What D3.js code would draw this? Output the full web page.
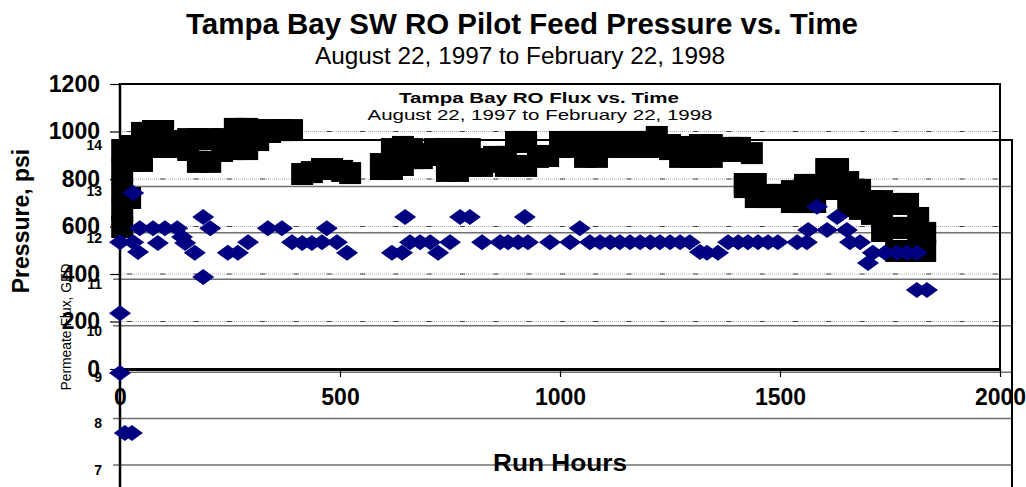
<!DOCTYPE html>
<html>
<head>
<meta charset="utf-8">
<script src="https://cdn.jsdelivr.net/npm/d3@7/dist/d3.min.js"></script>
<style>
body { margin: 0; background: #ffffff; }
text { font-family: "Liberation Sans", Arial, sans-serif; }
</style>
</head>
<body>
<script>
// Feed pressure (run hours, psi)
var pressureHours = [5, 5, 5, 5, 5, 23, 27, 27, 50, 50, 75, 75, 98, 98, 125, 125, 155, 155, 177, 177,
  205, 205, 232, 232, 261, 261, 289, 289, 314, 314, 341, 341, 368, 391,
  414, 436, 459, 482, 505, 523,
  593, 593, 618, 618, 643, 643, 664, 664, 686, 686, 716, 716, 743, 743, 768, 768, 795, 795,
  823, 823, 850, 850, 877, 877, 900, 900, 923, 923, 950, 950, 973,
  1000, 1000, 1027, 1027, 1057, 1057, 1084, 1084, 1114, 1114, 1141, 1141, 1168, 1168, 1195, 1195,
  1220, 1220, 1250, 1250, 1273, 1273, 1295, 1295, 1318, 1318, 1345, 1345, 1382, 1382, 1409, 1409, 1436,
  1420, 1420, 1445, 1445, 1473, 1473, 1500, 1500, 1527, 1527, 1557, 1557, 1580, 1580,
  1605, 1605, 1632, 1632, 1655, 1655, 1682, 1682, 1709, 1709, 1732, 1732, 1732,
  1764, 1764, 1764, 1791, 1791, 1791, 1814, 1814, 1814, 1830, 1830]
var pressurePsi = [922, 838, 754, 669, 598, 720, 939, 876, 994, 876, 1002, 935, 1002, 935, 960, 935, 968, 922, 968, 872,
  968, 872, 968, 918, 1011, 926, 1011, 926, 1006, 964, 1006, 998, 1006, 1006,
  821, 829, 842, 842, 834, 825,
  863, 842, 926, 842, 935, 859, 926, 888, 905, 888, 926, 901, 926, 834, 926, 834, 926, 855,
  884, 855, 893, 872, 893, 855, 956, 855, 956, 855, 897, 893, 897,
  956, 935, 956, 935, 956, 893, 956, 893, 956, 935, 956, 935, 956, 935, 956, 935,
  977, 935, 943, 926, 935, 893, 926, 893, 943, 893, 943, 893, 931, 918, 931, 918, 909,
  779, 766, 779, 724, 733, 724, 733, 724, 749, 703, 775, 703, 775, 703,
  842, 758, 842, 758, 787, 686, 754, 674, 707, 653, 707, 644, 581,
  695, 594, 497, 695, 594, 497, 636, 573, 497, 573, 497]

// Permeate flux (run hours, GFD)
var fluxHours = [0, 0, 0, 11, 27, 30, 30, 41, 45, 75, 86, 102, 130, 141, 148, 170, 189, 205, 189,
  245, 268, 291, 336, 368, 391, 414, 436, 459, 470, 493, 516,
  618, 641, 648, 659, 682, 705, 723, 750, 773, 795, 823, 864, 882, 905, 920, 927,
  977, 1023, 1045, 1068, 1091, 1114, 1136, 1159, 1182, 1205, 1227, 1250, 1273, 1295,
  1318, 1334, 1359, 1382, 1405, 1427, 1450, 1473, 1495, 1539, 1561, 1564, 1584, 1607, 1630, 1652,
  1659, 1682, 1700, 1711, 1739, 1766, 1789, 1811, 1811, 1834]
var fluxGfd = [11.80, 10.27, 8.98, 7.69, 7.69, 12.86, 11.80, 11.59, 12.10, 12.10, 11.78, 12.10, 12.10, 11.91, 11.78, 11.57, 12.34, 12.10, 11.05,
  11.57, 11.57, 11.80, 12.10, 12.10, 11.80, 11.78, 11.78, 11.80, 12.10, 11.80, 11.57,
  11.57, 11.57, 12.34, 11.80, 11.80, 11.80, 11.57, 11.80, 12.34, 12.34, 11.80, 11.80, 11.80, 11.80, 12.34, 11.80,
  11.80, 11.80, 12.10, 11.80, 11.80, 11.80, 11.80, 11.80, 11.80, 11.80, 11.80, 11.80, 11.80, 11.80,
  11.59, 11.57, 11.57, 11.80, 11.80, 11.80, 11.80, 11.80, 11.80, 11.80, 11.80, 12.06, 12.56, 12.06, 12.34, 12.06,
  11.80, 11.80, 11.35, 11.57, 11.57, 11.57, 11.57, 11.57, 10.77, 10.77]

// Tick values
var hourTicks = [0, 500, 1000, 1500, 2000]
var pressureTicks = [0, 200, 400, 600, 800, 1000, 1200]
var fluxTicks = [7, 8, 9, 10, 11, 12, 13, 14]

// Sizes
var svgW = 1026
var svgH = 487
var plotRight2 = 1012

var svg = d3.select("body")
            .append("svg")
            .attr("width", svgW)
            .attr("height", svgH);

// Scales (both charts share the run hours axis)
var xScale = d3.scaleLinear().domain([0, 2000]).range([120, 1000]);
var yPressure = d3.scaleLinear().domain([0, 1200]).range([369, 84]);
var yFlux = d3.scaleLinear().domain([7, 14]).range([465, 140]);

// ---- Inset flux chart: gridlines, frame, labels ----
svg.append("g")
   .selectAll("line")
   .data(fluxTicks.slice(0, -1))
   .enter()
   .append("line")
     .attr("x1", 113)
     .attr("x2", plotRight2)
     .attr("y1", function(d) { return yFlux(d); })
     .attr("y2", function(d) { return yFlux(d); })
     .style("stroke", "#707070")
     .style("stroke-width", 1.5);

svg.append("line")
   .attr("x1", 113).attr("x2", plotRight2)
   .attr("y1", yFlux(14)).attr("y2", yFlux(14))
   .style("stroke", "black").style("stroke-width", 2);
svg.append("line")
   .attr("x1", plotRight2).attr("x2", plotRight2)
   .attr("y1", yFlux(14) - 1).attr("y2", svgH)
   .style("stroke", "black").style("stroke-width", 2);

svg.append("g")
   .selectAll("text")
   .data(fluxTicks)
   .enter()
   .append("text")
     .attr("x", 102)
     .attr("y", function(d) { return yFlux(d) + 5; })
     .attr("dy", "0.35em")
     .style("text-anchor", "end")
     .style("font-weight", "bold")
     .style("font-size", "14px")
     .text(function(d) { return d; });

svg.append("text")
   .attr("transform", "translate(71,327) rotate(-90)")
   .style("text-anchor", "middle")
   .style("font-size", "14.5px")
   .attr("textLength", 127)
   .attr("lengthAdjust", "spacingAndGlyphs")
   .text("Permeate Flux, GFD");

svg.append("text")
   .attr("x", 539).attr("y", 103)
   .style("text-anchor", "middle")
   .style("font-weight", "bold")
   .style("font-size", "15px")
   .attr("textLength", 280)
   .attr("lengthAdjust", "spacingAndGlyphs")
   .text("Tampa Bay RO Flux vs. Time");

svg.append("text")
   .attr("x", 540).attr("y", 120)
   .style("text-anchor", "middle")
   .style("font-size", "15px")
   .attr("textLength", 345)
   .attr("lengthAdjust", "spacingAndGlyphs")
   .text("August 22, 1997 to February 22, 1998");

// ---- Main pressure chart: gridlines ----
var grid = svg.append("g");
grid.selectAll("line.dots")
    .data(pressureTicks.slice(1, -1))
    .enter()
    .append("line")
      .attr("class", "dots")
      .attr("x1", 120).attr("x2", 1000)
      .attr("y1", function(d) { return yPressure(d); })
      .attr("y2", function(d) { return yPressure(d); })
      .style("stroke", "#a8a8a8")
      .style("stroke-width", 1)
      .style("stroke-dasharray", "1,1");
grid.selectAll("line.dash")
    .data(pressureTicks.slice(1, -1))
    .enter()
    .append("line")
      .attr("class", "dash")
      .attr("x1", 127).attr("x2", 1000)
      .attr("y1", function(d) { return yPressure(d); })
      .attr("y2", function(d) { return yPressure(d); })
      .style("stroke", "#404040")
      .style("stroke-width", 1.2)
      .style("stroke-dasharray", "5,28.3");

// Frame of the pressure plot
svg.append("line")
   .attr("x1", 120).attr("x2", 1001)
   .attr("y1", yPressure(1200)).attr("y2", yPressure(1200))
   .style("stroke", "black").style("stroke-width", 2);
svg.append("line")
   .attr("x1", 1000).attr("x2", 1000)
   .attr("y1", yPressure(1200)).attr("y2", yPressure(0))
   .style("stroke", "black").style("stroke-width", 2);

// Y axis (pressure)
var yAxis = d3.axisLeft(yPressure)
              .tickValues(pressureTicks)
              .tickSize(10)
              .tickPadding(10)
              .tickFormat(d3.format("d"));
var yAxisG = svg.append("g")
                .attr("transform", "translate(120,0)")
                .call(yAxis);
yAxisG.select(".domain").remove();
yAxisG.selectAll("line").style("stroke", "black").style("stroke-width", 1.2);
yAxisG.selectAll("text")
      .style("font-size", "23px")
      .style("font-weight", "bold")
      .style("font-family", "'Liberation Sans', Arial, sans-serif")
      .attr("fill", "black");

// Left axis line runs through both charts
svg.append("line")
   .attr("x1", 120).attr("x2", 120)
   .attr("y1", yPressure(1200) - 1).attr("y2", svgH)
   .style("stroke", "black").style("stroke-width", 2.5);

// X axis (run hours)
var xAxis = d3.axisBottom(xScale)
              .tickValues(hourTicks)
              .tickSize(8)
              .tickPadding(12)
              .tickSizeOuter(0)
              .tickFormat(d3.format("d"));
var xAxisG = svg.append("g")
                .attr("transform", "translate(0," + yPressure(0) + ")")
                .call(xAxis);
xAxisG.select(".domain").style("stroke", "black").style("stroke-width", 3);
xAxisG.selectAll("line").style("stroke", "black").style("stroke-width", 1.2);
xAxisG.selectAll("text")
      .style("font-size", "23px")
      .style("font-weight", "bold")
      .style("font-family", "'Liberation Sans', Arial, sans-serif")
      .attr("fill", "black");

// Axis titles
svg.append("text")
   .attr("x", 560).attr("y", 471)
   .style("text-anchor", "middle")
   .style("font-weight", "bold")
   .style("font-size", "24px")
   .attr("textLength", 134)
   .attr("lengthAdjust", "spacingAndGlyphs")
   .text("Run Hours");

svg.append("text")
   .attr("transform", "translate(29,221) rotate(-90)")
   .style("text-anchor", "middle")
   .style("font-weight", "bold")
   .style("font-size", "23px")
   .text("Pressure, psi");

// Titles
svg.append("text")
   .attr("x", 522).attr("y", 34)
   .style("text-anchor", "middle")
   .style("font-weight", "bold")
   .style("font-size", "29px")
   .attr("textLength", 672)
   .attr("lengthAdjust", "spacingAndGlyphs")
   .text("Tampa Bay SW RO Pilot Feed Pressure vs. Time");

svg.append("text")
   .attr("x", 520).attr("y", 64)
   .style("text-anchor", "middle")
   .style("font-size", "23px")
   .attr("textLength", 410)
   .attr("lengthAdjust", "spacingAndGlyphs")
   .text("August 22, 1997 to February 22, 1998");

// ---- Data markers ----
var squareSize = 22
var pressureData = pressureHours.map(function(h, i) { return {x: h, y: pressurePsi[i]}; });
svg.append("g")
   .selectAll("rect")
   .data(pressureData)
   .enter()
   .append("rect")
     .attr("x", function(d) { return xScale(d.x) - squareSize / 2; })
     .attr("y", function(d) { return yPressure(d.y) - squareSize / 2; })
     .attr("width", squareSize)
     .attr("height", squareSize)
     .style("fill", "black");

var fluxData = fluxHours.map(function(h, i) { return {x: h, y: fluxGfd[i]}; });
svg.append("g")
   .selectAll("path")
   .data(fluxData)
   .enter()
   .append("path")
     .attr("d", "M0,-8L11,0L0,8L-11,0Z")
     .attr("transform", function(d) {
       return "translate(" + xScale(d.x) + "," + yFlux(d.y) + ")";
     })
     .style("fill", "#000080");
</script>
</body>
</html>
